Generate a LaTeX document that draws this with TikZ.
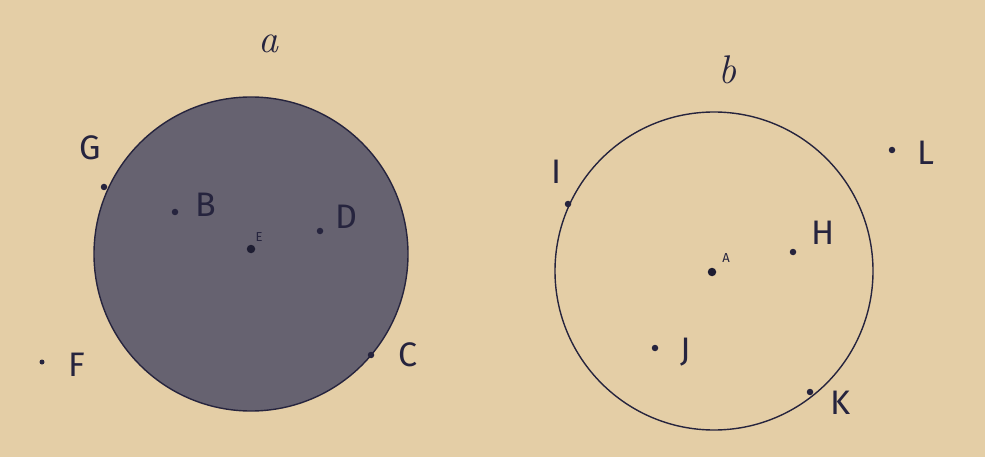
\documentclass[tikz,border=0pt]{standalone}
\usepackage{fontspec}
\setsansfont{Fira Sans}
\definecolor{paper}{RGB}{228,206,166}
\definecolor{ink}{RGB}{38,36,62}
\definecolor{shade}{RGB}{102,98,112}
\begin{document}
\begin{tikzpicture}[x=1pt,y=-1pt,
  dot/.style={circle,fill=ink,inner sep=0pt,minimum size=6.5pt},
  bigdot/.style={circle,fill=ink!80!black,inner sep=0pt,minimum size=8.5pt},
  lbl/.style={text=ink,font=\sffamily\fontsize{34}{34}\selectfont,inner sep=0pt},
  tiny/.style={text=ink,font=\sffamily\fontsize{13}{13}\selectfont,inner sep=0pt},
  setname/.style={text=ink,font=\itshape\fontsize{40}{40}\selectfont,inner sep=0pt},
  rim/.style={draw=ink,line width=1.4pt}]
\fill[paper] (0,0) rectangle (985,457);
\useasboundingbox (0,0) rectangle (985,457);
% set a
\node[circle,rim,fill=shade,minimum size=314pt,inner sep=0pt] (ca) at (251,254) {};
\node[setname] (la) at (268,44) {a};
\node[bigdot] (E) at (251,249) {};
\node[tiny] (lE) at (259,237) {E};
\node[dot] (G) at (104,187) {};
\node[lbl] (lG) at (90,148) {G};
\node[dot] (B) at (175,212) {};
\node[lbl] (lB) at (206,205) {B};
\node[dot] (D) at (320,231) {};
\node[lbl] (lD) at (346,217) {D};
\node[dot] (C) at (371,355) {};
\node[lbl] (lC) at (408,355) {C};
\node[dot,minimum size=5pt] (F) at (42,362) {};
\node[lbl] (lF) at (77,365) {F};
% set b
\node[circle,rim,minimum size=318pt,inner sep=0pt] (cb) at (714,271) {};
\node[setname] (lb) at (727,70) {b};
\node[bigdot] (A) at (712,272) {};
\node[tiny] (lA) at (726,258) {A};
\node[dot] (I) at (568,204) {};
\node[lbl] (lI) at (557,172) {I};
\node[dot] (L) at (892,150) {};
\node[lbl] (lL) at (926,153) {L};
\node[dot] (H) at (793,252) {};
\node[lbl] (lH) at (823,233) {H};
\node[dot] (J) at (655,348) {};
\node[lbl] (lJ) at (686,352) {J};
\node[dot] (K) at (810,392) {};
\node[lbl] (lK) at (841,403) {K};
\end{tikzpicture}
\end{document}
